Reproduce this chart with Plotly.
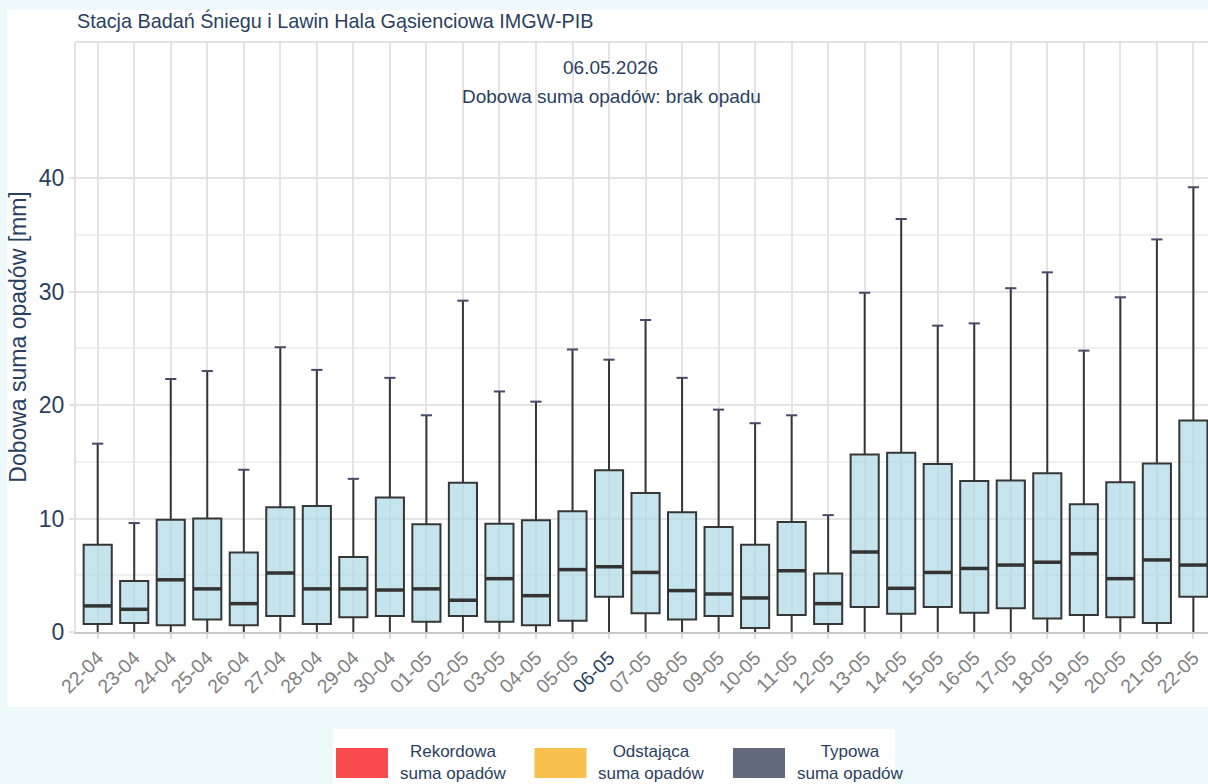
import plotly.graph_objects as go

# ---------------- data ----------------
days = ["22-04", "23-04", "24-04", "25-04", "26-04", "27-04", "28-04", "29-04", "30-04",
        "01-05", "02-05", "03-05", "04-05", "05-05", "06-05", "07-05", "08-05", "09-05",
        "10-05", "11-05", "12-05", "13-05", "14-05", "15-05", "16-05", "17-05", "18-05",
        "19-05", "20-05", "21-05", "22-05"]
q1 = [0.7, 0.8, 0.6, 1.1, 0.6, 1.4, 0.7, 1.3, 1.4, 0.9, 1.4, 0.9, 0.6, 1.0, 3.1, 1.65,
      1.1, 1.4, 0.35, 1.5, 0.7, 2.2, 1.6, 2.2, 1.7, 2.1, 1.2, 1.5, 1.3, 0.8, 3.1]
median = [2.3, 2.0, 4.6, 3.8, 2.5, 5.2, 3.8, 3.8, 3.7, 3.8, 2.8, 4.7, 3.2, 5.5, 5.75, 5.25,
          3.65, 3.35, 3.0, 5.4, 2.5, 7.05, 3.85, 5.25, 5.6, 5.9, 6.15, 6.9, 4.7, 6.35, 5.9]
q3 = [7.7, 4.5, 9.9, 10.0, 7.0, 11.0, 11.1, 6.6, 11.85, 9.5, 13.15, 9.55, 9.85, 10.65, 14.25,
      12.25, 10.55, 9.25, 7.7, 9.7, 5.15, 15.65, 15.8, 14.8, 13.3, 13.35, 14.0, 11.25, 13.2,
      14.85, 18.65]
upper = [16.6, 9.6, 22.3, 23.0, 14.3, 25.1, 23.1, 13.5, 22.4, 19.1, 29.2, 21.2, 20.3, 24.9,
         24.0, 27.5, 22.4, 19.6, 18.4, 19.1, 10.3, 29.9, 36.4, 27.0, 27.2, 30.3, 31.7, 24.8,
         29.5, 34.6, 39.2]
lower = [0.0] * len(days)
today = "06-05"

title_text = "Stacja Badań Śniegu i Lawin Hala Gąsienciowa IMGW-PIB"
date_text = "06.05.2026"
status_text = "Dobowa suma opadów: brak opadu"
y_title = "Dobowa suma opadów [mm]"
y_ticks = [0, 10, 20, 30, 40]
y_minor = [5, 15, 25, 35]

legend_labels = ["Rekordowa<br>suma opadów", "Odstająca<br>suma opadów", "Typowa<br>suma opadów"]
legend_colors = ["#f94a4d", "#f8c04d", "#636a7e"]

# ---------------- styling ----------------
FONT = "Liberation Sans, Arial, Helvetica, sans-serif"
NAVY = "#2a3f5f"
W, H = 1208, 784
L, R, T, B = 76, 0, 42, 152
pw, ph = W - L - R, H - T - B


def px_x(p):
    return (p - L) / pw


def px_y(p):
    return (H - B - p) / ph


fig = go.Figure()

fig.add_trace(go.Box(
    x=days, q1=q1, median=median, q3=q3, lowerfence=lower, upperfence=upper,
    boxpoints=False, whiskerwidth=0, width=0.77,
    fillcolor="rgba(173,216,230,0.7)",
    line=dict(color="#363636", width=2),
    showlegend=False, hoverinfo="skip",
))
# thicker median bars (line-ew spans 1.4 x size)
fig.add_trace(go.Scatter(
    x=days, y=median, mode="markers", showlegend=False, hoverinfo="skip",
    marker=dict(symbol="line-ew", size=19.5, line=dict(color="#333333", width=3.5)),
))
# whisker caps
fig.add_trace(go.Scatter(
    x=days, y=upper, mode="markers", showlegend=False, hoverinfo="skip",
    marker=dict(symbol="line-ew", size=8, line=dict(color="#454b66", width=2)),
))

ticktext = [f'<span style="color:{NAVY}">{d}</span>' if d == today else d for d in days]

shapes = [
    # white card behind chart
    dict(type="rect", xref="paper", yref="paper", layer="below",
         x0=px_x(7), x1=px_x(1212), y0=px_y(707), y1=px_y(10),
         fillcolor="white", line=dict(width=0)),
    # top border
    dict(type="line", xref="paper", yref="paper", layer="below",
         x0=0, x1=1, y0=1, y1=1, line=dict(color="#e2e2e2", width=2)),
    # legend card
    dict(type="rect", xref="paper", yref="paper", layer="below",
         x0=px_x(333), x1=px_x(895), y0=px_y(800), y1=px_y(729),
         fillcolor="white", line=dict(width=0)),
]
annotations = [
    dict(text=date_text, x=px_x(610), y=px_y(67), xref="paper", yref="paper",
         xanchor="center", yanchor="middle",
         showarrow=False, font=dict(size=19, color=NAVY, family=FONT)),
    dict(text=status_text, x=px_x(611), y=px_y(96), xref="paper", yref="paper",
         xanchor="center", yanchor="middle",
         showarrow=False, font=dict(size=19, color=NAVY, family=FONT)),
]
for i, (lab, col) in enumerate(zip(legend_labels, legend_colors)):
    x0 = 336 + i * 198.5
    shapes.append(dict(type="rect", xref="paper", yref="paper",
                       x0=px_x(x0), x1=px_x(x0 + 52), y0=px_y(778), y1=px_y(748),
                       fillcolor=col, line=dict(width=0)))
    annotations.append(dict(text=lab, x=px_x(x0 + 117), y=px_y(762), xref="paper", yref="paper",
                            xanchor="center", yanchor="middle",
                            showarrow=False, align="center",
                            font=dict(size=17, color=NAVY, family=FONT)))

fig.update_layout(
    width=W, height=H,
    margin=dict(l=L, r=R, t=T, b=B, pad=0),
    paper_bgcolor="#eef9fc", plot_bgcolor="white",
    font=dict(family=FONT, color=NAVY),
    title=dict(text=title_text, x=77 / W, xanchor="left", xref="container",
               y=1 - 21 / H, yanchor="middle", yref="container",
               font=dict(size=19.8, color=NAVY, family=FONT)),
    shapes=shapes, annotations=annotations,
    showlegend=False,
)
fig.update_xaxes(
    type="category", range=[-0.594, 30.4],
    tickvals=days, ticktext=ticktext, tickangle=-45,
    tickfont=dict(size=19.5, color="#808080", family=FONT),
    showgrid=True, gridcolor="#e4e4e4", gridwidth=2,
    showline=True, linecolor="#c8c8c8", linewidth=1.5,
    ticks="outside", ticklen=5, tickcolor="#dcdcdc", tickwidth=1.5,
    zeroline=False,
)
fig.update_yaxes(
    range=[0, 52], tickvals=y_ticks,
    tickfont=dict(size=23, color=NAVY, family=FONT),
    showgrid=True, gridcolor="#e4e4e4", gridwidth=2,
    minor=dict(tickvals=y_minor, showgrid=True, gridcolor="#efefef", gridwidth=1.5),
    showline=True, linecolor="#e2e2e2", linewidth=2,
    ticks="outside", ticklen=5, tickcolor="#e2e2e2", tickwidth=2,
    zeroline=False,
    title=dict(text=y_title, font=dict(size=23, color=NAVY, family=FONT), standoff=6),
)

fig.write_html("out.html")
